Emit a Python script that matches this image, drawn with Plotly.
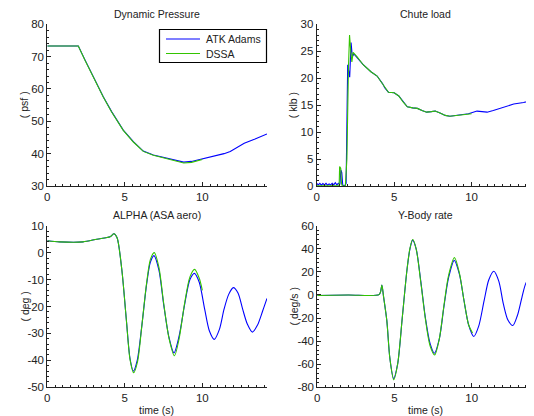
import plotly.graph_objects as go

# ---------------- data ----------------
qbar_t_atk = [0, 1.0, 2.0, 2.43, 2.75, 3.08, 3.61, 4.15, 4.9, 5.55, 6.19, 6.84, 7.27, 7.7, 8.3,
              8.8, 9.3, 9.85, 10.4, 10.9, 11.4, 11.8, 12.3, 12.7, 13.4, 14.17]
qbar_v_atk = [73.3, 73.3, 73.3, 69.0, 65.9, 62.3, 57.6, 53.0, 47.3, 43.7, 40.8, 39.6, 39.1,
              38.6, 37.8, 37.4, 37.6, 38.2, 38.9, 39.5, 40.0, 40.7, 42.0, 43.2, 44.5, 46.1]
qbar_t_dssa = [0, 1.0, 2.0, 2.43, 2.75, 3.08, 3.61, 4.15, 4.9, 5.55, 6.19, 6.84, 7.27, 7.7,
               8.3, 8.8, 9.3, 10.0]
qbar_v_dssa = [73.3, 73.3, 73.3, 68.9, 65.8, 62.2, 57.5, 52.9, 47.2, 43.6, 40.7, 39.5, 39.0,
               38.5, 37.6, 37.1, 37.3, 38.2]

chute_t_atk = [0.0, 0.1, 0.2, 0.3, 0.4, 0.5, 0.6, 0.7, 0.8, 0.9, 1.0, 1.1, 1.2, 1.3, 1.4, 1.5,
               1.56, 1.62, 1.68, 1.8, 1.9, 2.0, 2.08, 2.13, 2.22, 2.3, 2.4, 2.6, 3.0, 3.5, 3.9,
               4.25, 4.4, 4.63, 5.0, 5.3, 5.6, 5.85, 6.2, 6.5, 6.8, 7.1, 7.4, 7.65, 8.0, 8.3,
               8.6, 9.0, 9.4, 9.8, 10.35, 10.7, 11.0, 11.4, 11.86, 12.3, 12.72, 13.36, 14.03]
chute_v_atk = [0.5, 0.2, 0.5, 0.15, 0.45, 0.2, 0.5, 0.15, 0.4, 0.2, 0.5, 0.2, 0.6, 0.2, 0.5, 0.3,
               3.0, 2.5, 0.2, 0.0, 0.5, 22.5, 21.0, 20.2, 26.6, 24.0, 24.5, 23.8, 22.5, 21.2, 20.4,
               19.0, 18.2, 17.4, 17.3, 16.7, 15.5, 14.7, 14.5, 14.4, 14.0, 13.7, 13.8, 13.9, 13.5,
               13.1, 12.95, 13.1, 13.3, 13.4, 13.9, 13.8, 13.7, 14.0, 14.4, 14.8, 15.2, 15.5, 16.0]
chute_t_dssa = [0.0, 1.45, 1.48, 1.55, 1.6, 1.65, 1.85, 1.95, 2.05, 2.12, 2.2, 2.27, 2.35, 2.6,
                3.0, 3.5, 3.9, 4.25, 4.4, 4.63, 5.0, 5.3, 5.6, 5.85, 6.2, 6.5, 6.8, 7.1, 7.4,
                7.65, 8.0, 8.3, 8.6, 9.0, 9.4, 10.0]
chute_v_dssa = [0.05, 0.05, 3.6, 3.3, 0.5, 0.0, 0.0, 5.0, 22.0, 28.0, 25.0, 23.0, 24.8, 24.0,
                22.5, 21.2, 20.4, 19.0, 18.2, 17.4, 17.3, 16.7, 15.5, 14.7, 14.5, 14.4, 14.0,
                13.7, 13.8, 13.9, 13.5, 13.1, 12.95, 13.1, 13.3, 13.4]

alpha_t_atk = [0, 0.8, 2.3, 3.2, 4.05, 4.3, 4.5, 4.8, 5.1, 5.34, 5.55, 5.8, 6.1, 6.4, 6.65, 6.88,
               7.2, 7.5, 7.85, 8.17, 8.5, 8.85, 9.2, 9.49, 9.8, 10.15, 10.45, 10.77, 11.1, 11.4,
               11.7, 12.0, 12.3, 12.6, 12.9, 13.23, 13.55, 13.9, 14.17]
alpha_v_atk = [4.4, 4.0, 4.0, 5.0, 5.9, 7.0, 5.5, -6.0, -25.0, -39.5, -44.0, -40.0, -27.0, -12.0,
               -3.5, -1.1, -6.5, -19.0, -31.5, -37.2, -31.0, -19.5, -10.0, -7.7, -11.0, -21.0,
               -29.0, -32.2, -28.5, -21.0, -15.5, -13.0, -15.0, -21.0, -26.5, -29.5, -27.0,
               -21.5, -17.0]
alpha_t_dssa = [0, 0.8, 2.3, 3.2, 4.05, 4.3, 4.5, 4.8, 5.1, 5.34, 5.57, 5.82, 6.1, 6.4, 6.65,
                6.9, 7.2, 7.5, 7.85, 8.2, 8.5, 8.85, 9.2, 9.5, 9.8, 10.0]
alpha_v_dssa = [4.4, 4.0, 4.0, 5.0, 5.9, 7.0, 5.5, -6.0, -25.0, -39.8, -44.6, -40.5, -27.0,
                -11.5, -2.5, 0.0, -5.5, -18.5, -31.8, -38.3, -32.0, -19.0, -9.0, -6.2, -9.5,
                -14.0]

rate_t_atk = [0, 2.0, 4.0, 4.1, 4.18, 4.29, 4.5, 4.7, 4.94, 5.2, 5.5, 5.8, 6.0, 6.17, 6.4, 6.7,
              7.0, 7.3, 7.58, 7.9, 8.2, 8.5, 8.87, 9.2, 9.5, 9.8, 10.13, 10.45, 10.8, 11.1,
              11.43, 11.75, 12.05, 12.35, 12.66, 12.95, 13.25, 13.5, 13.8, 14.03]
rate_v_atk = [-0.5, 0.0, 0.3, 3.0, 8.5, -1.5, -22.0, -55.0, -72.5, -60.0, -20.0, 21.0, 40.0,
              47.5, 40.0, 12.0, -20.0, -42.0, -50.5, -38.0, -10.0, 15.0, 30.0, 18.0, -5.0,
              -26.0, -36.0, -27.0, -5.0, 13.0, 20.5, 12.0, -8.0, -22.0, -26.5, -18.0, -2.0,
              10.0, 15.5, 11.5]
rate_t_dssa = [0, 2.0, 4.0, 4.1, 4.18, 4.29, 4.5, 4.7, 4.95, 5.2, 5.5, 5.8, 6.0, 6.18, 6.4, 6.7,
               7.0, 7.3, 7.6, 7.9, 8.2, 8.5, 8.88, 9.2, 9.5, 9.8, 10.05]
rate_v_dssa = [-0.5, 0.0, 0.3, 3.0, 8.5, -1.5, -22.0, -55.0, -73.5, -60.0, -20.0, 21.0, 40.5,
               48.0, 40.0, 11.0, -21.0, -44.0, -52.0, -38.0, -9.0, 17.0, 32.3, 19.0, -5.0,
               -26.0, -33.0]

titles = ["Dynamic Pressure", "Chute load", "ALPHA (ASA aero)", "Y-Body rate"]
y_units = ["( psf )", "( klb )", "( deg )", "( deg/s )"]
y_ranges = [[30, 80], [0, 30], [-50, 10], [-80, 60]]
y_tickvals = [[30, 40, 50, 60, 70, 80],
              [0, 5, 10, 15, 20, 25, 30],
              [-50, -40, -30, -20, -10, 0, 10],
              [-80, -60, -40, -20, 0, 20, 40, 60]]
y_ticktext = [["30", "40", "50", "60", "70", "80"],
              ["0", "5", "10", "15", "20", "25", "30"],
              ["-50", "-40", "-30", "-20", "-10", "0", "10"],
              ["-80", "-60", "-40", "-20", "0", "20", "40", "60"]]
y_minor = [2, 1, 2, 4]
x_tickvals = [0, 5, 10]
x_ticktext = ["0", "5", "10"]
x_ranges = [[0, 14.17], [0, 14.03], [0, 14.17], [0, 14.03]]
series_names = ["ATK Adams", "DSSA"]

# ---------------- figure ----------------
OFF = 8  # the page body has an 8px margin; positions below are window pixels
W, H = 534 - OFF, 416 - OFF
BLUE = "#0000ff"
GREEN = "#33c400"
AXC = "#222222"
FONT = "Liberation Sans, Arial, sans-serif"


def px(x):
    return (x - OFF) / W


def py(y):
    return 1 - (y - OFF) / H


# plot areas in window pixels (left, right, top, bottom)
areas = [(47.3, 267.0, 24.3, 186.0), (316.7, 534.0, 24.3, 186.0),
         (47.3, 267.0, 225.7, 387.3), (317.3, 534.0, 225.7, 387.3)]

fig = go.Figure()
data = [
    (qbar_t_atk, qbar_v_atk, qbar_t_dssa, qbar_v_dssa, "linear", 0),
    (chute_t_atk, chute_v_atk, chute_t_dssa, chute_v_dssa, "linear", 0),
    (alpha_t_atk, alpha_v_atk, alpha_t_dssa, alpha_v_dssa, "spline", 0.8),
    (rate_t_atk, rate_v_atk, rate_t_dssa, rate_v_dssa, "spline", 0.8),
]

layout = {}
annotations = []
shapes = []
for i, (ta, va, td, vd, shape, sm) in enumerate(data):
    k = "" if i == 0 else str(i + 1)
    xa, ya = "x" + k, "y" + k
    lkw = dict(shape=shape)
    if shape == "spline":
        lkw["smoothing"] = sm
    fig.add_trace(go.Scatter(x=ta, y=va, mode="lines", name=series_names[0],
                             line=dict(color=BLUE, width=1.1, **lkw),
                             xaxis=xa, yaxis=ya, showlegend=False))
    fig.add_trace(go.Scatter(x=td, y=vd, mode="lines", name=series_names[1],
                             line=dict(color=GREEN, width=1.1, **lkw),
                             xaxis=xa, yaxis=ya, showlegend=False))
    l, r, t, b = areas[i]
    common = dict(showgrid=False, zeroline=False, showline=True, linecolor=AXC, linewidth=1,
                  ticks="inside", ticklen=4, tickcolor=AXC, mirror=False, automargin=False,
                  tickfont=dict(family=FONT, size=11.5, color=AXC))
    layout["xaxis" + k] = dict(domain=[px(l), min(px(r), 1.0)], range=x_ranges[i], anchor=ya,
                               tickmode="array", tickvals=x_tickvals, ticktext=x_ticktext,
                               minor=dict(dtick=0.5, tick0=0, ticks="inside", ticklen=2,
                                          tickcolor=AXC),
                               **common)
    layout["yaxis" + k] = dict(domain=[py(b), py(t)], range=y_ranges[i], anchor=xa,
                               tickmode="array", tickvals=y_tickvals[i],
                               ticktext=y_ticktext[i],
                               minor=dict(dtick=y_minor[i], tick0=0, ticks="inside",
                                          ticklen=2, tickcolor=AXC),
                               **common)
    cx = 156.5 if i % 2 == 0 else 425.5
    annotations.append(dict(text=titles[i], x=px(cx),
                            y=py(t - 10.5), xref="paper", yref="paper",
                            showarrow=False, xanchor="center", yanchor="middle",
                            font=dict(family=FONT, size=10.5, color=AXC)))
    annotations.append(dict(text=y_units[i], x=px(24 if i % 2 == 0 else 293),
                            y=py((t + b) / 2), xref="paper", yref="paper",
                            showarrow=False, textangle=-90, xanchor="center",
                            yanchor="middle", font=dict(family=FONT, size=10.5, color=AXC)))
    if i >= 2:
        annotations.append(dict(text="time (s)", x=px(cx),
                                y=py(410), xref="paper", yref="paper", showarrow=False,
                                xanchor="center", yanchor="middle",
                                font=dict(family=FONT, size=10.5, color=AXC)))

# legend box (top-left panel), drawn in window pixels
shapes.append(dict(type="rect", xref="paper", yref="paper", x0=px(159.5), x1=px(266.5),
                   y0=py(62.5), y1=py(29.5), line=dict(color="black", width=1.2),
                   fillcolor="white", layer="above"))
for j, (name, col, yy) in enumerate([(series_names[0], BLUE, 39.0), (series_names[1], GREEN, 53.5)]):
    shapes.append(dict(type="line", xref="paper", yref="paper", x0=px(166), x1=px(200),
                       y0=py(yy), y1=py(yy), line=dict(color=col, width=1.2), layer="above"))
    annotations.append(dict(text=name, x=px(203.5), y=py(yy), xref="paper", yref="paper",
                            showarrow=False, xanchor="left", yanchor="middle",
                            font=dict(family=FONT, size=10.5, color=AXC)))

fig.update_layout(
    width=W, height=H, margin=dict(l=0, r=0, t=0, b=0, autoexpand=False),
    paper_bgcolor="white", plot_bgcolor="white",
    annotations=annotations, shapes=shapes, showlegend=False,
    **layout,
)

fig.write_html("out.html")
